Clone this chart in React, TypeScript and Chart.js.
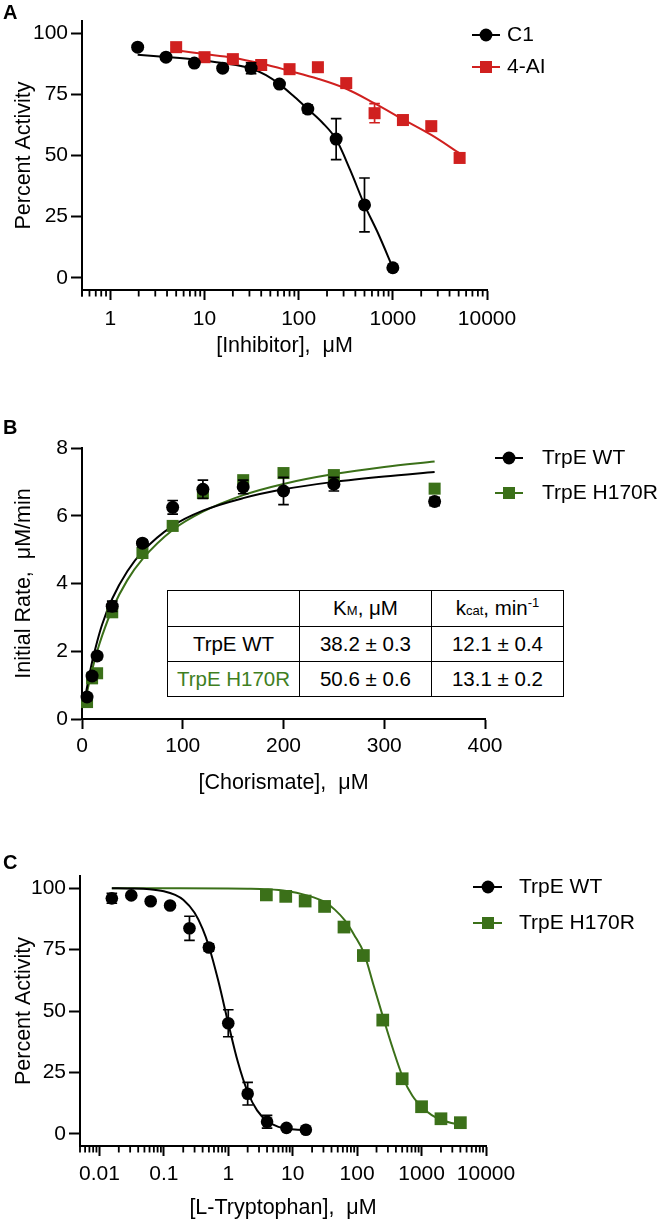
import React, { useEffect, useRef } from "react";
import { Chart, registerables } from "chart.js";

Chart.register(...registerables);

const FONT_FAMILY = '"Liberation Sans", Arial, Helvetica, sans-serif';
Chart.defaults.font.family = FONT_FAMILY;

const BLACK = "#000000";
const RED = "#d0201f";
const GREEN = "#3b7019";
const TABLE_GREEN = "#3f7f1f";

// ---------------- Panel A ----------------
const panelASeriesNames = ["C1", "4-AI"];
const inhibitorTicks = [1, 10, 100, 1000, 10000];
const inhibitorTickLabels = ["1", "10", "100", "1000", "10000"];
const percentTicks = [0, 25, 50, 75, 100];
const percentTickLabels = ["0", "25", "50", "75", "100"];

const c1Conc = [1.95, 3.9, 7.8, 15.6, 31.25, 62.5, 125, 250, 500, 1000];
const c1Activity = [94.3, 90.2, 87.8, 85.7, 85.7, 79.2, 69.0, 56.7, 29.8, 4.1];
const c1Error = [0.8, 0.8, 0.8, 0.8, 2.2, 0.8, 1.6, 8.4, 11.0, 0.8];
const c1FitConc = [1.95, 3.9, 7.8, 15.6, 31.25, 45, 62.5, 90, 125, 177, 250, 353, 500, 700, 1000];
const c1FitActivity = [91.2, 90.3, 89.3, 87.8, 85.6, 82.9, 79.2, 74.0, 69.0, 63.6, 56.6, 44.0, 29.8, 18.0, 4.1];

const ai4Conc = [5, 10, 20, 40, 80, 160, 320, 640, 1280, 2560, 5120];
const ai4Activity = [94.3, 90.2, 89.4, 87.0, 85.3, 86.1, 79.6, 67.3, 64.5, 62.0, 49.0];
const ai4Error = [0.8, 0.8, 0.8, 0.8, 0.8, 0.8, 1.0, 3.9, 1.0, 1.0, 1.5];
const ai4FitConc = [5, 10, 20, 40, 80, 160, 320, 640, 1280, 2560, 5120];
const ai4FitActivity = [93.0, 91.5, 90.0, 87.6, 84.6, 81.4, 77.3, 71.3, 64.8, 58.4, 50.9];

// ---------------- Panel B ----------------
const panelBSeriesNames = ["TrpE WT", "TrpE H170R"];
const chorismateTicks = [0, 100, 200, 300, 400];
const chorismateTickLabels = ["0", "100", "200", "300", "400"];
const rateTicks = [0, 2, 4, 6, 8];
const rateTickLabels = ["0", "2", "4", "6", "8"];

const chorismateConc = [5, 10, 15, 30, 60, 90, 120, 160, 200, 250, 350];
const wtRate = [0.65, 1.27, 1.86, 3.33, 5.19, 6.25, 6.78, 6.85, 6.73, 6.93, 6.42];
const wtRateError = [0.1, 0.1, 0.1, 0.15, 0.1, 0.2, 0.27, 0.2, 0.4, 0.2, 0.12];
const h170rRate = [0.5, 1.2, 1.35, 3.15, 4.9, 5.7, 6.67, 7.05, 7.26, 7.2, 6.8];
const h170rRateError = [0.05, 0.08, 0.08, 0.1, 0.08, 0.1, 0.15, 0.1, 0.1, 0.08, 0.1];
const rateFitConc = [2.5, 5, 10, 15, 20, 30, 45, 60, 90, 120, 160, 200, 250, 300, 350];
const wtRateFit = [0.49, 0.94, 1.68, 2.28, 2.79, 3.55, 4.36, 4.94, 5.7, 6.15, 6.52, 6.78, 7.0, 7.16, 7.29];
const h170rRateFit = [0.41, 0.79, 1.44, 1.99, 2.46, 3.24, 4.1, 4.72, 5.58, 6.12, 6.61, 6.94, 7.23, 7.44, 7.6];

const kineticsEnzymes = ["TrpE WT", "TrpE H170R"];
const kineticsKm = ["38.2 ± 0.3", "50.6 ± 0.6"];
const kineticsKcat = ["12.1 ± 0.4", "13.1 ± 0.2"];

// ---------------- Panel C ----------------
const panelCSeriesNames = ["TrpE WT", "TrpE H170R"];
const tryptophanTicks = [0.01, 0.1, 1, 10, 100, 1000, 10000];
const tryptophanTickLabels = ["0.01", "0.1", "1", "10", "100", "1000", "10000"];

const wtTrpConc = [0.0156, 0.03125, 0.0625, 0.125, 0.25, 0.5, 1, 2, 4, 8, 16];
const wtTrpActivity = [95.9, 97.1, 94.7, 93.0, 83.7, 75.9, 45.0, 16.3, 4.9, 2.4, 1.6];
const wtTrpError = [2.0, 0.8, 0.8, 0.8, 4.9, 1.5, 5.5, 4.6, 2.6, 0.8, 0.8];
const wtTrpFitConc = [0.0156, 0.03, 0.06, 0.1, 0.15, 0.2, 0.3, 0.4, 0.5, 0.7, 1, 1.4, 2, 2.8, 4, 6, 8, 12, 16];
const wtTrpFitActivity = [100, 99.9, 99.6, 98.8, 97.3, 95.3, 90.0, 83.5, 76.4, 62.3, 45.0, 29.5, 17.0, 9.5, 5.2, 2.8, 2.1, 1.6, 1.5];

const h170rTrpConc = [3.9, 7.8, 15.6, 31.25, 62.5, 125, 250, 500, 1000, 2000, 4000];
const h170rTrpActivity = [97.3, 96.7, 94.8, 92.6, 84.2, 72.6, 46.3, 22.4, 11.0, 6.1, 4.5];
const h170rTrpError = [0.8, 0.8, 0.8, 1.2, 1.1, 1.5, 0.8, 0.8, 0.8, 0.8, 0.8];
const h170rTrpFitConc = [0.0156, 0.1, 1, 2, 4, 8, 16, 32, 45, 64, 90, 128, 180, 256, 360, 512, 720, 1024, 1440, 2048, 2900, 4096];
const h170rTrpFitActivity = [100, 100, 99.95, 99.85, 99.6, 98.9, 97.2, 94.3, 91.3, 87.0, 81.0, 73.5, 60.5, 47.0, 34.5, 23.0, 15.5, 10.8, 7.6, 5.6, 4.4, 3.6];

// ---------------- helpers ----------------
const pts = (xs: number[], ys: number[]) => xs.map((x, i) => ({ x, y: ys[i] }));

const pointSet = (label: string, xs: number[], ys: number[], color: string, style: string, radius: number) => ({
  label,
  data: pts(xs, ys),
  showLine: false,
  pointStyle: style,
  pointRadius: radius,
  pointHoverRadius: radius,
  pointBackgroundColor: color,
  pointBorderColor: color,
  pointBorderWidth: 0,
  borderColor: color,
  backgroundColor: color,
  clip: false,
});

const curveSet = (label: string, xs: number[], ys: number[], color: string) => ({
  label,
  data: pts(xs, ys),
  showLine: true,
  pointRadius: 0,
  pointHoverRadius: 0,
  borderColor: color,
  backgroundColor: color,
  borderWidth: 2,
  cubicInterpolationMode: "monotone",
  fill: false,
  clip: false,
});

function logMinorTicks(min: number, max: number) {
  const out: number[] = [];
  for (let e = Math.floor(Math.log10(min)); e <= Math.ceil(Math.log10(max)); e++) {
    for (let m = 2; m <= 9; m++) {
      const v = m * Math.pow(10, e);
      if (v >= min * 0.999 && v <= max) out.push(v);
    }
  }
  return out;
}

type LegendItem = { label: string; color: string; style: "circle" | "rect" };

type PanelSpec = {
  top: number;
  width: number;
  height: number;
  area: { left: number; right: number; top: number; bottom: number };
  x: { type: string; min: number; max: number; ticks: number[]; labels: string[]; minor: number[]; title: string; labelPad: number; titlePad: number };
  y: { min: number; max: number; ticks: number[]; labels: string[]; title: string };
  datasets: any[];
  errorBars: Record<number, number[]>;
  legend: { items: LegendItem[]; rows: number[]; x1: number; x2: number; mx: number; tx: number };
  panelLabel: { text: string; x: number; y: number };
};

const TICK_FONT = 21;
const TITLE_FONT = 21.5;
const LEGEND_FONT = 21;

function makeExtrasPlugin(spec: PanelSpec) {
  return {
    id: "figureExtras",
    beforeDatasetDraw(chart: any, args: any) {
      const errs = spec.errorBars[args.index];
      if (!errs) return;
      const ds = chart.data.datasets[args.index];
      const yScale = chart.scales.y;
      const ctx = chart.ctx;
      const cap = 5.3;
      ctx.save();
      ctx.strokeStyle = ds.borderColor;
      ctx.lineWidth = 1.7;
      args.meta.data.forEach((el: any, i: number) => {
        const e = errs[i];
        if (!e) return;
        const v = ds.data[i].y;
        const x = el.x;
        const t = yScale.getPixelForValue(v + e);
        const b = yScale.getPixelForValue(v - e);
        ctx.beginPath();
        ctx.moveTo(x, t);
        ctx.lineTo(x, b);
        ctx.moveTo(x - cap, t);
        ctx.lineTo(x + cap, t);
        ctx.moveTo(x - cap, b);
        ctx.lineTo(x + cap, b);
        ctx.stroke();
      });
      ctx.restore();
    },
    afterDraw(chart: any) {
      const ctx = chart.ctx;
      const area = chart.chartArea;
      const xs = chart.scales.x;
      ctx.save();
      // minor ticks
      ctx.strokeStyle = BLACK;
      ctx.lineWidth = 1.8;
      spec.x.minor.forEach((v) => {
        const px = xs.getPixelForValue(v);
        ctx.beginPath();
        ctx.moveTo(px, area.bottom);
        ctx.lineTo(px, area.bottom + 6.5);
        ctx.stroke();
      });
      // legend
      const lg = spec.legend;
      lg.items.forEach((item, i) => {
        const y = lg.rows[i];
        ctx.strokeStyle = item.color;
        ctx.fillStyle = item.color;
        ctx.lineWidth = 2;
        ctx.beginPath();
        ctx.moveTo(lg.x1, y);
        ctx.lineTo(lg.x2, y);
        ctx.stroke();
        if (item.style === "circle") {
          ctx.beginPath();
          ctx.arc(lg.mx, y, 6.4, 0, Math.PI * 2);
          ctx.fill();
        } else {
          ctx.fillRect(lg.mx - 6, y - 6, 12, 12);
        }
        ctx.fillStyle = BLACK;
        ctx.font = `${LEGEND_FONT}px ${FONT_FAMILY}`;
        ctx.textAlign = "left";
        ctx.textBaseline = "middle";
        ctx.fillText(item.label, lg.tx, y);
      });
      // panel label
      ctx.fillStyle = BLACK;
      ctx.font = `bold 20px ${FONT_FAMILY}`;
      ctx.textAlign = "left";
      ctx.textBaseline = "middle";
      ctx.fillText(spec.panelLabel.text, spec.panelLabel.x, spec.panelLabel.y);
      ctx.restore();
    },
  };
}

function buildConfig(spec: PanelSpec): any {
  const a = spec.area;
  return {
    type: "scatter",
    data: { datasets: spec.datasets },
    options: {
      responsive: false,
      maintainAspectRatio: false,
      animation: false,
      devicePixelRatio: 1,
      events: [],
      layout: { padding: { left: 0, top: a.top, right: spec.width - a.right, bottom: 0 } },
      plugins: { legend: { display: false }, tooltip: { enabled: false }, title: { display: false } },
      scales: {
        x: {
          type: spec.x.type,
          position: "bottom",
          min: spec.x.min,
          max: spec.x.max,
          afterFit: (s: any) => {
            s.height = spec.height - a.bottom;
          },
          afterBuildTicks: (s: any) => {
            s.ticks = spec.x.ticks.map((v) => ({ value: v }));
          },
          ticks: {
            callback: (_v: any, i: number) => spec.x.labels[i],
            autoSkip: false,
            maxRotation: 0,
            minRotation: 0,
            padding: spec.x.labelPad,
            color: BLACK,
            font: { family: FONT_FAMILY, size: TICK_FONT },
          },
          grid: { display: true, drawOnChartArea: false, drawTicks: true, tickLength: 10, tickWidth: 2, tickColor: BLACK },
          border: { display: true, color: BLACK, width: 2 },
          title: {
            display: true,
            text: spec.x.title,
            color: BLACK,
            font: { family: FONT_FAMILY, size: TITLE_FONT },
            padding: { top: 0, bottom: spec.x.titlePad },
          },
        },
        y: {
          type: "linear",
          position: "left",
          min: spec.y.min,
          max: spec.y.max,
          afterFit: (s: any) => {
            s.width = a.left;
          },
          afterBuildTicks: (s: any) => {
            s.ticks = spec.y.ticks.map((v) => ({ value: v }));
          },
          ticks: {
            callback: (_v: any, i: number) => spec.y.labels[i],
            autoSkip: false,
            padding: 3,
            color: BLACK,
            font: { family: FONT_FAMILY, size: TICK_FONT },
          },
          grid: { display: true, drawOnChartArea: false, drawTicks: true, tickLength: 11, tickWidth: 2, tickColor: BLACK },
          border: { display: true, color: BLACK, width: 2 },
          title: {
            display: true,
            text: spec.y.title,
            color: BLACK,
            font: { family: FONT_FAMILY, size: TITLE_FONT },
            padding: { top: 11, bottom: 0 },
          },
        },
      },
    },
    plugins: [makeExtrasPlugin(spec)],
  };
}

// ---------------- panel specs ----------------
const panelA: PanelSpec = {
  top: 0,
  width: 660,
  height: 370,
  area: { left: 82, right: 487, top: 21, bottom: 290 },
  x: {
    type: "logarithmic",
    min: 0.5,
    max: 10000,
    ticks: inhibitorTicks,
    labels: inhibitorTickLabels,
    minor: [0.5, ...logMinorTicks(0.5, 10000)],
    title: "[Inhibitor],  μM",
    labelPad: 7,
    titlePad: 11,
  },
  y: { min: -5, max: 105, ticks: percentTicks, labels: percentTickLabels, title: "Percent Activity" },
  datasets: [
    pointSet(panelASeriesNames[0], c1Conc, c1Activity, BLACK, "circle", 6.5),
    pointSet(panelASeriesNames[1], ai4Conc, ai4Activity, RED, "rect", 8.5),
    curveSet(panelASeriesNames[0] + " fit", c1FitConc, c1FitActivity, BLACK),
    curveSet(panelASeriesNames[1] + " fit", ai4FitConc, ai4FitActivity, RED),
  ],
  errorBars: { 0: c1Error, 1: ai4Error },
  legend: {
    items: [
      { label: panelASeriesNames[0], color: BLACK, style: "circle" },
      { label: panelASeriesNames[1], color: RED, style: "rect" },
    ],
    rows: [35, 67],
    x1: 472,
    x2: 500,
    mx: 486,
    tx: 507,
  },
  panelLabel: { text: "A", x: 3, y: 13 },
};

const panelB: PanelSpec = {
  top: 370,
  width: 660,
  height: 430,
  area: { left: 82, right: 485, top: 78, bottom: 349 },
  x: {
    type: "linear",
    min: 0,
    max: 400,
    ticks: chorismateTicks,
    labels: chorismateTickLabels,
    minor: [],
    title: "[Chorismate],  μM",
    labelPad: 4.5,
    titlePad: 4,
  },
  y: { min: 0, max: 8, ticks: rateTicks, labels: rateTickLabels, title: "Initial Rate,  μM/min" },
  datasets: [
    pointSet(panelBSeriesNames[0], chorismateConc, wtRate, BLACK, "circle", 6.5),
    pointSet(panelBSeriesNames[1], chorismateConc, h170rRate, GREEN, "rect", 8.5),
    curveSet(panelBSeriesNames[0] + " fit", rateFitConc, wtRateFit, BLACK),
    curveSet(panelBSeriesNames[1] + " fit", rateFitConc, h170rRateFit, GREEN),
  ],
  errorBars: { 0: wtRateError, 1: h170rRateError },
  legend: {
    items: [
      { label: panelBSeriesNames[0], color: BLACK, style: "circle" },
      { label: panelBSeriesNames[1], color: GREEN, style: "rect" },
    ],
    rows: [88, 123],
    x1: 495,
    x2: 523,
    mx: 509,
    tx: 542,
  },
  panelLabel: { text: "B", x: 3, y: 58 },
};

const panelC: PanelSpec = {
  top: 800,
  width: 660,
  height: 421,
  area: { left: 80, right: 486, top: 76, bottom: 346 },
  x: {
    type: "logarithmic",
    min: 0.005,
    max: 10000,
    ticks: tryptophanTicks,
    labels: tryptophanTickLabels,
    minor: logMinorTicks(0.005, 10000),
    title: "[L-Tryptophan],  μM",
    labelPad: 5.5,
    titlePad: 0,
  },
  y: { min: -5, max: 105, ticks: percentTicks, labels: percentTickLabels, title: "Percent Activity" },
  datasets: [
    pointSet(panelCSeriesNames[0], wtTrpConc, wtTrpActivity, BLACK, "circle", 6.3),
    pointSet(panelCSeriesNames[1], h170rTrpConc, h170rTrpActivity, GREEN, "rect", 9),
    curveSet(panelCSeriesNames[0] + " fit", wtTrpFitConc, wtTrpFitActivity, BLACK),
    curveSet(panelCSeriesNames[1] + " fit", h170rTrpFitConc, h170rTrpFitActivity, GREEN),
  ],
  errorBars: { 0: wtTrpError, 1: h170rTrpError },
  legend: {
    items: [
      { label: panelCSeriesNames[0], color: BLACK, style: "circle" },
      { label: panelCSeriesNames[1], color: GREEN, style: "rect" },
    ],
    rows: [87, 123],
    x1: 473,
    x2: 502,
    mx: 488,
    tx: 519,
  },
  panelLabel: { text: "C", x: 3, y: 63 },
};

function PanelChart({ spec }: { spec: PanelSpec }) {
  const ref = useRef<HTMLCanvasElement | null>(null);
  useEffect(() => {
    if (!ref.current) return;
    const chart = new Chart(ref.current, buildConfig(spec));
    return () => chart.destroy();
  }, [spec]);
  return (
    <canvas
      ref={ref}
      width={spec.width}
      height={spec.height}
      style={{ position: "absolute", left: 0, top: spec.top, width: spec.width, height: spec.height, display: "block" }}
    />
  );
}

function KineticsTable() {
  const cell: React.CSSProperties = {
    border: "1.5px solid #000",
    padding: 0,
    textAlign: "center",
    verticalAlign: "middle",
    whiteSpace: "nowrap",
  };
  const small: React.CSSProperties = { fontSize: 13, verticalAlign: "baseline" };
  const sup: React.CSSProperties = { fontSize: 13, verticalAlign: "baseline", position: "relative", top: -8 };
  return (
    <table
      style={{
        position: "absolute",
        left: 167,
        top: 590,
        width: 396,
        borderCollapse: "collapse",
        tableLayout: "fixed",
        fontFamily: FONT_FAMILY,
        fontSize: 20.5,
        color: "#000",
        lineHeight: 1,
        background: "#fff",
      }}
    >
      <colgroup>
        <col style={{ width: 132 }} />
        <col style={{ width: 132 }} />
        <col style={{ width: 132 }} />
      </colgroup>
      <tbody>
        <tr style={{ height: 36 }}>
          <td style={cell}></td>
          <td style={cell}>
            K<span style={small}>M</span>, μM
          </td>
          <td style={cell}>
            k<span style={small}>cat</span>, min<span style={sup}>-1</span>
          </td>
        </tr>
        {kineticsEnzymes.map((name, i) => (
          <tr key={name} style={{ height: 35 }}>
            <td style={{ ...cell, color: i === 1 ? TABLE_GREEN : "#000" }}>{name}</td>
            <td style={cell}>{kineticsKm[i]}</td>
            <td style={cell}>{kineticsKcat[i]}</td>
          </tr>
        ))}
      </tbody>
    </table>
  );
}

export default function App() {
  return (
    <div style={{ position: "absolute", left: 0, top: 0, width: 660, height: 1221, background: "#fff", overflow: "hidden" }}>
      <PanelChart spec={panelA} />
      <PanelChart spec={panelB} />
      <PanelChart spec={panelC} />
      <KineticsTable />
    </div>
  );
}
